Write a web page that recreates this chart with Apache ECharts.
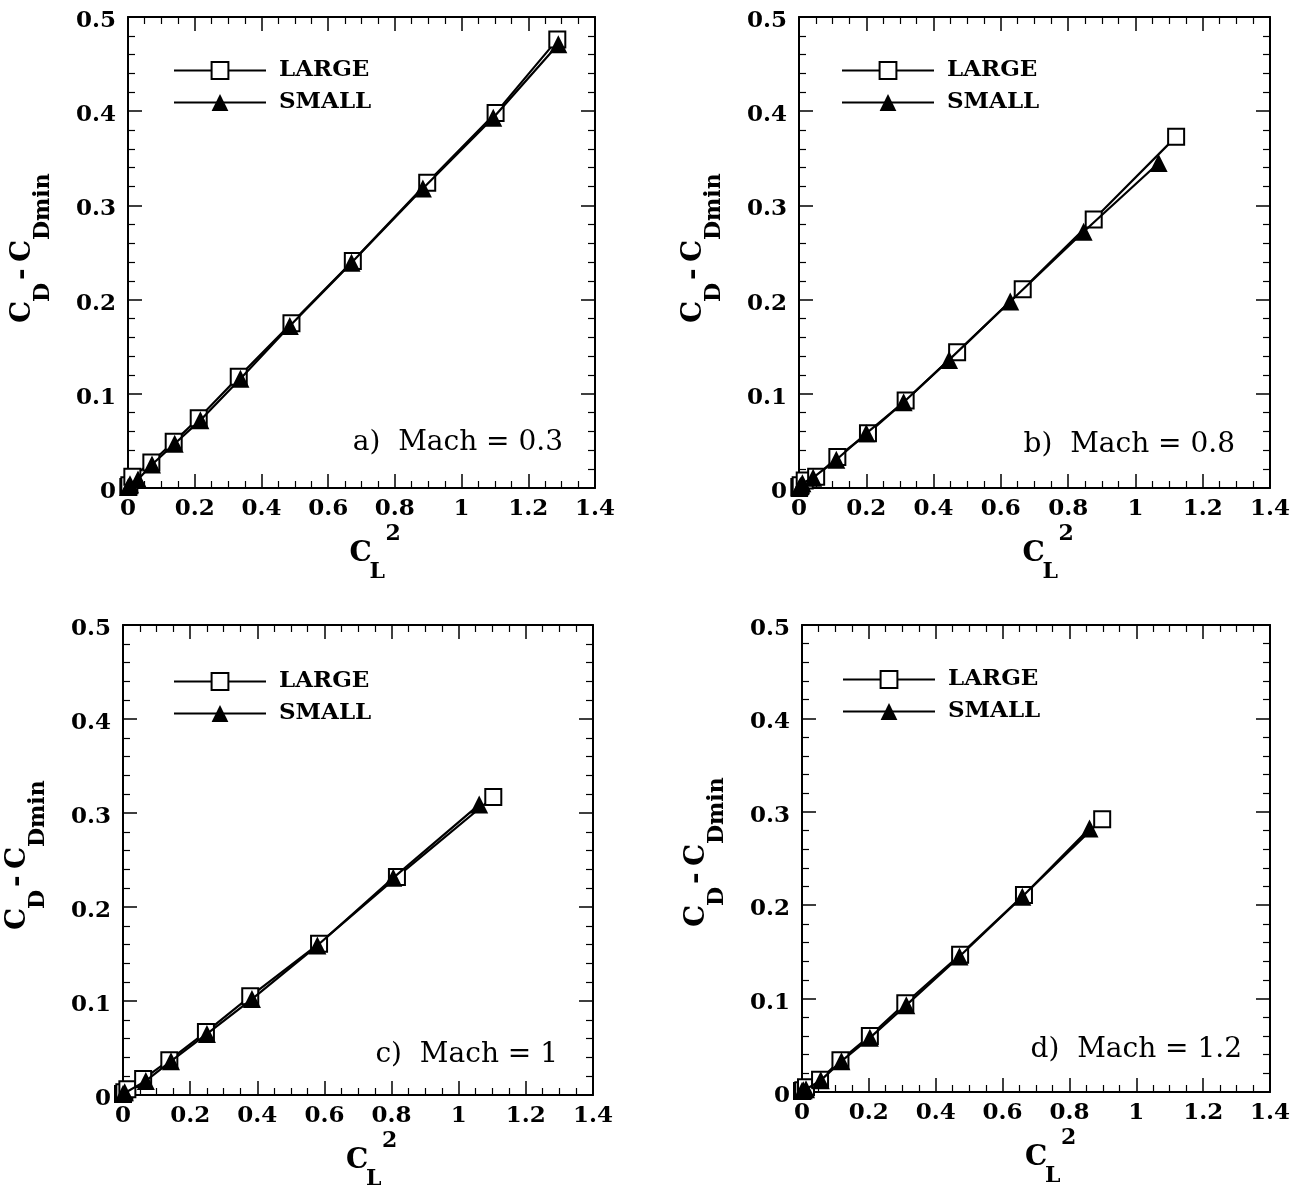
<!DOCTYPE html>
<html>
<head>
<meta charset="utf-8">
<script src="https://cdn.jsdelivr.net/npm/echarts@6/dist/echarts.min.js"></script>
<style>
html,body{margin:0;padding:0;background:#fff;}
#chart{width:1293px;height:1186px;}
</style>
</head>
<body>
<div id="chart"></div>
<script>
// ---- data ----
const xTicks = ['0','0.2','0.4','0.6','0.8','1','1.2','1.4'];
const yTicks = ['0','0.1','0.2','0.3','0.4','0.5'];
const seriesNames = ['LARGE', 'SMALL'];
const panelLabels = ['a)  Mach = 0.3', 'b)  Mach = 0.8', 'c)  Mach = 1', 'd)  Mach = 1.2'];

const aLargeX = [0.001, 0.004, 0.013, 0.07, 0.137, 0.212, 0.332, 0.49, 0.674, 0.897, 1.102, 1.287];
const aLargeY = [0.001, 0.003, 0.012, 0.027, 0.049, 0.074, 0.118, 0.175, 0.241, 0.324, 0.398, 0.476];
const aSmallX = [0.001, 0.006, 0.03, 0.072, 0.14, 0.217, 0.337, 0.485, 0.67, 0.884, 1.095, 1.29];
const aSmallY = [0.001, 0.004, 0.009, 0.025, 0.047, 0.072, 0.116, 0.172, 0.239, 0.318, 0.393, 0.471];

const bLargeX = [0.001, 0.005, 0.017, 0.051, 0.114, 0.205, 0.317, 0.47, 0.665, 0.876, 1.121];
const bLargeY = [0.001, 0.003, 0.008, 0.012, 0.033, 0.058, 0.093, 0.144, 0.211, 0.285, 0.373];
const bSmallX = [0.001, 0.004, 0.01, 0.042, 0.111, 0.2, 0.311, 0.446, 0.628, 0.846, 1.069];
const bSmallY = [0.0, 0.002, 0.005, 0.011, 0.030, 0.058, 0.091, 0.136, 0.198, 0.272, 0.345];

const cLargeX = [0.0, 0.004, 0.013, 0.06, 0.138, 0.247, 0.379, 0.584, 0.816, 1.103];
const cLargeY = [0.001, 0.003, 0.006, 0.017, 0.037, 0.067, 0.105, 0.161, 0.232, 0.317];
const cSmallX = [0.0, 0.005, 0.068, 0.143, 0.25, 0.384, 0.579, 0.805, 1.061];
const cSmallY = [0.001, 0.003, 0.015, 0.036, 0.065, 0.102, 0.159, 0.231, 0.309];

const dLargeX = [0.0, 0.004, 0.012, 0.054, 0.115, 0.203, 0.309, 0.473, 0.664, 0.898];
const dLargeY = [0.001, 0.002, 0.005, 0.013, 0.034, 0.060, 0.095, 0.147, 0.211, 0.292];
const dSmallX = [0.0, 0.004, 0.012, 0.056, 0.118, 0.203, 0.312, 0.471, 0.659, 0.86];
const dSmallY = [0.001, 0.002, 0.003, 0.0125, 0.033, 0.058, 0.093, 0.145, 0.209, 0.282];

// ---- layout ----
const plots = [
  {left: 128, top: 17, width: 467, height: 471},
  {left: 799, top: 17, width: 471, height: 471},
  {left: 123, top: 625, width: 470, height: 470},
  {left: 802, top: 625, width: 470, height: 467}
];
const legendPos = [
  {left: 173, top: 59}, {left: 841, top: 59}, {left: 173, top: 670}, {left: 842, top: 668}
];
const machPos = [
  {x: 563, y: 443}, {x: 1235, y: 445}, {x: 558, y: 1055}, {x: 1242, y: 1050}
];

const largeX = [aLargeX, bLargeX, cLargeX, dLargeX];
const largeY = [aLargeY, bLargeY, cLargeY, dLargeY];
const smallX = [aSmallX, bSmallX, cSmallX, dSmallX];
const smallY = [aSmallY, bSmallY, cSmallY, dSmallY];

const FONT = '"DejaVu Serif", serif';
const xMin = Number(xTicks[0]), xMax = Number(xTicks[xTicks.length - 1]);
const yMin = Number(yTicks[0]), yMax = Number(yTicks[yTicks.length - 1]);

function zip(xs, ys) { return xs.map((x, i) => [x, ys[i]]); }

function axisCommon() {
  return {
    axisLine: {show: true, onZero: false, lineStyle: {color: '#000', width: 2}},
    axisTick: {show: true, inside: true, length: 14, lineStyle: {color: '#000', width: 1.5}},
    minorTick: {show: true, length: 7, lineStyle: {color: '#000', width: 1.2}},
    splitLine: {show: false},
    minorSplitLine: {show: false}
  };
}

const grids = [], xAxes = [], yAxes = [], series = [], legends = [], graphics = [];

plots.forEach((p, i) => {
  grids.push({left: p.left, top: p.top, width: p.width, height: p.height, containLabel: false});
  const xb = Object.assign({type: 'value', gridIndex: i, position: 'bottom', min: xMin, max: xMax, interval: 0.2}, axisCommon());
  xb.minorTick.splitNumber = 4;
  xb.axisLabel = {show: true, color: '#000', fontFamily: FONT, fontWeight: 'bold', fontSize: 23, margin: 10,
    showMinLabel: true, showMaxLabel: true, hideOverlap: false};
  xAxes.push(xb);
  const xt = Object.assign({type: 'value', gridIndex: i, position: 'top', min: xMin, max: xMax, interval: 0.2}, axisCommon());
  xt.minorTick.splitNumber = 4;
  xt.axisLabel = {show: false};
  xAxes.push(xt);
  const yl = Object.assign({type: 'value', gridIndex: i, position: 'left', min: yMin, max: yMax, interval: 0.1}, axisCommon());
  yl.minorTick.splitNumber = 5;
  yl.axisLabel = {show: true, color: '#000', fontFamily: FONT, fontWeight: 'bold', fontSize: 23, margin: 12,
    verticalAlign: 'top', lineHeight: 8, showMinLabel: true, showMaxLabel: true, hideOverlap: false};
  yAxes.push(yl);
  const yr = Object.assign({type: 'value', gridIndex: i, position: 'right', min: yMin, max: yMax, interval: 0.1}, axisCommon());
  yr.minorTick.splitNumber = 5;
  yr.axisLabel = {show: false};
  yAxes.push(yr);

  series.push({
    name: seriesNames[0], type: 'line', xAxisIndex: 2 * i, yAxisIndex: 2 * i,
    data: zip(largeX[i], largeY[i]), clip: false,
    symbol: 'emptyRect', symbolSize: 16, showAllSymbol: true,
    lineStyle: {color: '#000', width: 2.2},
    itemStyle: {color: '#000', borderColor: '#000', borderWidth: 1.6},
    emphasis: {disabled: true}, silent: true, z: 2
  });
  series.push({
    name: seriesNames[1], type: 'line', xAxisIndex: 2 * i, yAxisIndex: 2 * i,
    data: zip(smallX[i], smallY[i]), clip: false,
    symbol: 'triangle', symbolSize: 18, showAllSymbol: true,
    lineStyle: {color: '#000', width: 2.2},
    itemStyle: {color: '#000'},
    emphasis: {disabled: true}, silent: true, z: 3
  });

  legends.push({
    data: seriesNames, orient: 'vertical', left: legendPos[i].left, top: legendPos[i].top,
    padding: 0, itemWidth: 92, itemHeight: 21, itemGap: 9, selectedMode: false,
    formatter: n => ' ' + n,
    textStyle: {color: '#000', fontFamily: FONT, fontWeight: 'bold', fontSize: 23}
  });

  graphics.push({
    type: 'text', x: machPos[i].x, y: machPos[i].y, silent: true,
    style: {text: panelLabels[i], font: '28px ' + FONT, fill: '#000', align: 'right', verticalAlign: 'middle'}
  });

  // y title: C_D - C_Dmin (rotated)
  const gx = p.left - 95, gy = p.top + p.height - 165;
  const mainFont = 'bold 28px ' + FONT, subFont = 'bold 22px ' + FONT;
  graphics.push({
    type: 'group', x: gx, y: gy, rotation: Math.PI / 2, silent: true,
    children: [
      {type: 'text', x: 0, y: -10, style: {text: 'C', font: mainFont, fill: '#000', align: 'left', verticalAlign: 'middle'}},
      {type: 'text', x: 21, y: 10, style: {text: 'D', font: subFont, fill: '#000', align: 'left', verticalAlign: 'middle'}},
      {type: 'text', x: 43, y: -10, style: {text: '-', font: mainFont, fill: '#000', align: 'left', verticalAlign: 'middle'}},
      {type: 'text', x: 61, y: -10, style: {text: 'C', font: mainFont, fill: '#000', align: 'left', verticalAlign: 'middle'}},
      {type: 'text', x: 83, y: 10, style: {text: 'Dmin', font: subFont, fill: '#000', align: 'left', verticalAlign: 'middle'}}
    ]
  });

  // x title: C_L^2
  const cx = p.left + p.width / 2, by = p.top + p.height;
  graphics.push({
    type: 'group', x: cx, y: by, silent: true,
    children: [
      {type: 'text', x: -12, y: 66, style: {text: 'C', font: mainFont, fill: '#000', align: 'left', verticalAlign: 'middle'}},
      {type: 'text', x: 8, y: 84, style: {text: 'L', font: subFont, fill: '#000', align: 'left', verticalAlign: 'middle'}},
      {type: 'text', x: 24, y: 46, style: {text: '2', font: subFont, fill: '#000', align: 'left', verticalAlign: 'middle'}}
    ]
  });
});

const chart = echarts.init(document.getElementById('chart'), null, {renderer: 'canvas'});
chart.setOption({
  animation: false,
  backgroundColor: '#fff',
  grid: grids,
  xAxis: xAxes,
  yAxis: yAxes,
  legend: legends,
  series: series,
  graphic: graphics,
  tooltip: {show: false}
});
</script>
</body>
</html>
